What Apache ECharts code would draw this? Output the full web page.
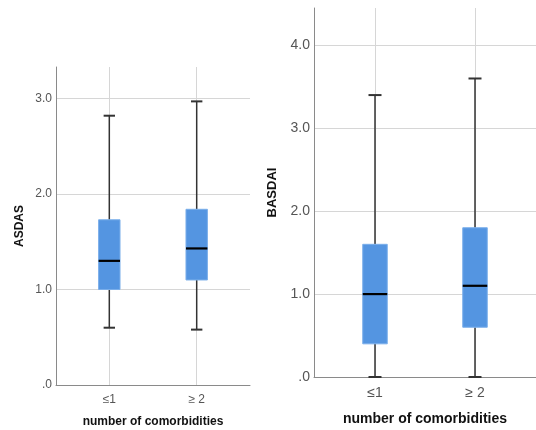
<!DOCTYPE html>
<html>
<head>
<meta charset="utf-8">
<script src="https://cdn.jsdelivr.net/npm/echarts@6/dist/echarts.min.js"></script>
<style>html,body{margin:0;padding:0;background:#fff}#c{width:536px;height:430px}</style>
</head>
<body>
<div id="c"></div>
<script>
// Categories and box statistics [min, Q1, median, Q3, max]
const categories = ['≤1', '≥ 2'];
const asdasStats = [
  [0.60, 1.00, 1.30, 1.73, 2.82],
  [0.58, 1.10, 1.43, 1.84, 2.97]
];
const basdaiStats = [
  [0.00, 0.40, 1.00, 1.60, 3.40],
  [0.00, 0.60, 1.10, 1.80, 3.60]
];
const asdasTicks = [0, 1, 2, 3];
const basdaiTicks = [0, 1, 2, 3, 4];

const chart = echarts.init(document.getElementById('c'), null, {renderer: 'canvas'});
const FONT = 'Liberation Sans, Arial, sans-serif';

function toData(stats) {
  return stats.map((s, i) => [i + 1].concat(s));
}
function fmtY(v) { return v === 0 ? '.0' : v.toFixed(1); }

function renderBox(params, api) {
  const x = api.value(0);
  const pMin = api.coord([x, api.value(1)]);
  const pQ1 = api.coord([x, api.value(2)]);
  const pMed = api.coord([x, api.value(3)]);
  const pQ3 = api.coord([x, api.value(4)]);
  const pMax = api.coord([x, api.value(5)]);
  const bw = api.size([0.245, 0])[0];
  const cw = api.size([0.13, 0])[0];
  const cx = pMed[0];
  const lineStyle = {stroke: '#333333', lineWidth: 1.5};
  return {
    type: 'group',
    children: [
      {type: 'line', shape: {x1: cx, y1: pMax[1], x2: cx, y2: pQ3[1]}, style: lineStyle},
      {type: 'line', shape: {x1: cx, y1: pQ1[1], x2: cx, y2: pMin[1]}, style: lineStyle},
      {type: 'line', shape: {x1: cx - cw / 2, y1: pMax[1], x2: cx + cw / 2, y2: pMax[1]}, style: {stroke: '#333333', lineWidth: 2}},
      {type: 'line', shape: {x1: cx - cw / 2, y1: pMin[1], x2: cx + cw / 2, y2: pMin[1]}, style: {stroke: '#333333', lineWidth: 2}},
      {type: 'rect', shape: {x: cx - bw / 2, y: pQ3[1], width: bw, height: pQ1[1] - pQ3[1]},
       style: {fill: '#5495e1', stroke: '#7aaeea', lineWidth: 1}},
      {type: 'line', shape: {x1: cx - bw / 2, y1: pMed[1], x2: cx + bw / 2, y2: pMed[1]}, style: {stroke: '#000000', lineWidth: 2.2}}
    ]
  };
}

function xAxis(gridIndex, fs, nameFs, nameGap, margin) {
  return {
    type: 'value', gridIndex, min: 0.39, max: 2.61,
    name: 'number of comorbidities', nameLocation: 'middle',
    nameGap: nameGap,
    nameTextStyle: {fontFamily: FONT, fontWeight: 'bold', fontSize: nameFs, color: '#111'},
    axisLine: {show: true, lineStyle: {color: '#8a8a8a', width: 1}},
    axisTick: {show: false, customValues: [1, 2]},
    axisLabel: {customValues: [1, 2], formatter: v => categories[Math.round(v) - 1] || '',
      fontFamily: FONT, fontSize: fs, color: '#555', margin: margin},
    splitLine: {show: true, lineStyle: {color: '#d6d6d6', width: 1}}
  };
}
function yAxis(gridIndex, max, ticks, name, fs, nameFs, gap) {
  return {
    type: 'value', gridIndex, min: 0, max: max,
    name: name, nameLocation: 'middle', nameGap: gap,
    nameTextStyle: {fontFamily: FONT, fontWeight: 'bold', fontSize: nameFs, color: '#111'},
    axisLine: {show: true, lineStyle: {color: '#8a8a8a', width: 1}},
    axisTick: {show: false, customValues: ticks},
    axisLabel: {customValues: ticks, formatter: fmtY, fontFamily: FONT, fontSize: fs, color: '#555', margin: 4},
    splitLine: {show: true, lineStyle: {color: '#d6d6d6', width: 1}}
  };
}

chart.setOption({
  animation: false,
  backgroundColor: '#ffffff',
  grid: [
    {left: 56, top: 67, width: 194, height: 318, outerBoundsMode: 'none', containLabel: false},
    {left: 314, top: 8, width: 222, height: 369, outerBoundsMode: 'none', containLabel: false}
  ],
  xAxis: [xAxis(0, 12, 12, 31, 9), xAxis(1, 14, 14, 35, 9)],
  yAxis: [
    yAxis(0, 3.33, asdasTicks, 'ASDAS', 12, 12, 30),
    yAxis(1, 4.45, basdaiTicks, 'BASDAI', 14, 13, 35)
  ],
  series: [
    {type: 'custom', xAxisIndex: 0, yAxisIndex: 0, data: toData(asdasStats), renderItem: renderBox,
     encode: {x: 0, y: [1, 2, 3, 4, 5]}},
    {type: 'custom', xAxisIndex: 1, yAxisIndex: 1, data: toData(basdaiStats), renderItem: renderBox,
     encode: {x: 0, y: [1, 2, 3, 4, 5]}}
  ]
});
</script>
</body>
</html>
